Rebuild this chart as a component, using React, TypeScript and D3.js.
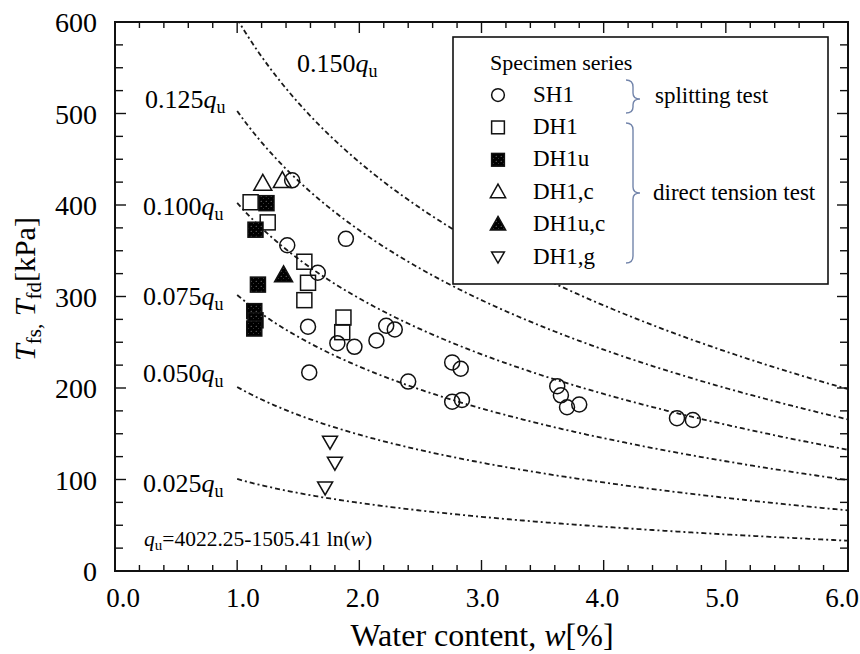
import React from "react";
import * as d3 from "d3";

// ---- data ----
const sh1W = [1.45, 1.41, 1.66, 1.89, 1.58, 1.59, 1.82, 1.96, 2.14, 2.22, 2.29, 2.40, 2.76, 2.83, 2.76, 2.84, 3.62, 3.65, 3.70, 3.80, 4.60, 4.73];
const sh1T = [427, 356, 326, 363, 267, 217, 249, 245, 252, 268, 264, 207, 228, 221, 185, 187, 202, 192, 179, 182, 167, 165];
const dh1W = [1.11, 1.25, 1.55, 1.58, 1.55, 1.87, 1.86];
const dh1T = [403, 381, 338, 315, 296, 277, 261];
const dh1uW = [1.24, 1.15, 1.17, 1.14, 1.15, 1.14];
const dh1uT = [402, 373, 313, 284, 274, 265];
const dh1cW = [1.21, 1.37];
const dh1cT = [423, 426];
const dh1ucW = [1.38];
const dh1ucT = [323];
const dh1gW = [1.76, 1.80, 1.72];
const dh1gT = [141, 118, 91];

// reference curves T = ratio * qu, qu = A - B ln(w) (from the chart annotation)
const qA = 4022.25;
const qB = 1505.41;
const ratios = [0.15, 0.125, 0.1, 0.075, 0.05, 0.025];
const ratioLabels = ["0.150", "0.125", "0.100", "0.075", "0.050", "0.025"];
const curveW = d3.range(1.0, 6.0001, 0.02);

const xTicks = [0, 1, 2, 3, 4, 5, 6];
const yTicks = [0, 100, 200, 300, 400, 500, 600];

const legendNames = ["SH1", "DH1", "DH1u", "DH1,c", "DH1u,c", "DH1,g"];

// ---- layout ----
const W = 860, H = 654;
const L = 115, R = 848, T = 22, B = 571;
const x = d3.scaleLinear().domain([0, 6]).range([L, R]);
const xLab = d3.scaleLinear().domain([0, 6]).range([123, 842]);
const y = d3.scaleLinear().domain([0, 600]).range([B, T]);
const labelPos = [
  [297, 72], [145, 108], [143, 215], [143, 305], [143, 382], [143, 492],
];
const serif = "'Liberation Serif', 'Times New Roman', serif";
const ink = "#000";

function Marker({ kind, cx, cy, s = 1 }: { kind: string; cx: number; cy: number; s?: number }) {
  const st = { stroke: "#111", strokeWidth: 1.5 };
  if (kind === "SH1") return <circle cx={cx} cy={cy} r={7.5 * s} fill="none" {...st} />;
  if (kind === "DH1") {
    const a = 7.5 * s;
    return <rect x={cx - a} y={cy - a} width={2 * a} height={2 * a} fill="none" {...st} />;
  }
  if (kind === "DH1u") {
    const a = 7.5 * s;
    return <rect x={cx - a} y={cy - a} width={2 * a} height={2 * a} fill="url(#speck)" {...st} />;
  }
  if (kind === "DH1,c" || kind === "DH1u,c") {
    const w = 9 * s, h = 16 * s;
    const p = `M${cx},${cy - h * 0.6} L${cx + w},${cy + h * 0.4} L${cx - w},${cy + h * 0.4} Z`;
    return <path d={p} fill={kind === "DH1u,c" ? "url(#speck)" : "none"} {...st} />;
  }
  const w = 7.5 * s, h = 13 * s;
  const p = `M${cx - w},${cy - h * 0.45} L${cx + w},${cy - h * 0.45} L${cx},${cy + h * 0.55} Z`;
  return <path d={p} fill="none" {...st} />;
}

export default function App() {
  const series: [string, number[], number[]][] = [
    ["SH1", sh1W, sh1T],
    ["DH1", dh1W, dh1T],
    ["DH1u", dh1uW, dh1uT],
    ["DH1,c", dh1cW, dh1cT],
    ["DH1u,c", dh1ucW, dh1ucT],
    ["DH1,g", dh1gW, dh1gT],
  ];
  const curves = ratios.map((r) =>
    d3.line<number>().x((w) => x(w)).y((w) => y(r * (qA - qB * Math.log(w))))(curveW) as string
  );

  const xMinor = d3.range(0, 6.0001, 0.2);
  const yMinor = d3.range(0, 600.001, 25);

  const lx = 453, ly = 37, lw = 375, lh = 247;
  const rowY = (i: number) => 95 + i * 32.4;

  return (
    <svg width={W} height={H} style={{ position: "absolute", left: 0, top: 0, background: "#fff" }} fontFamily={serif}>
      <defs>
        <clipPath id="plot">
          <rect x={L} y={T} width={R - L} height={B - T} />
        </clipPath>
        <pattern id="speck" width="5" height="5" patternUnits="userSpaceOnUse">
          <rect width="5" height="5" fill="#000" />
          <circle cx="1.2" cy="1.2" r="0.5" fill="#aaa" />
          <circle cx="3.6" cy="3.4" r="0.4" fill="#888" />
        </pattern>
      </defs>
      <rect width={W} height={H} fill="#fff" />

      {/* reference curves */}
      <g clipPath="url(#plot)">
        {curves.map((d, i) => (
          <path key={i} d={d} fill="none" stroke="#1a1a1a" strokeWidth={1.8} strokeDasharray="5 3 2 3" />
        ))}
      </g>

      {/* curve labels */}
      {ratioLabels.map((t, i) => (
        <text key={t} x={labelPos[i][0]} y={labelPos[i][1]} fontSize={26} fill={ink}>
          {t}
          <tspan fontStyle="italic">q</tspan>
          <tspan fontSize={18} dy={5}>u</tspan>
        </text>
      ))}
      <text x={144} y={546} fontSize={21.5} fill={ink}>
        <tspan fontStyle="italic">q</tspan>
        <tspan fontSize={15} dy={4}>u</tspan>
        <tspan dy={-4}>=4022.25-1505.41 ln(</tspan>
        <tspan fontStyle="italic">w</tspan>
        <tspan>)</tspan>
      </text>

      {/* data */}
      <g clipPath="url(#plot)">
        {series.map(([k, ws, ts]) =>
          ws.map((w, i) => <Marker key={k + i} kind={k} cx={x(w)} cy={y(ts[i])} />)
        )}
      </g>

      {/* legend */}
      <rect x={lx} y={ly} width={lw} height={lh} fill="#fff" stroke="#111" strokeWidth={1.6} />
      <text x={490} y={70} fontSize={22} fill={ink}>Specimen series</text>
      {legendNames.map((n, i) => (
        <g key={n}>
          <Marker kind={n} cx={498} cy={rowY(i)} s={0.85} />
          <text x={533} y={rowY(i) + 6.5} fontSize={23} fill={ink}>{n}</text>
        </g>
      ))}
      <path d="M626,80 Q633,80 633,87 L633,93 Q633,99 640,99 Q633,99 633,105 L633,107 Q633,113 626,113" fill="none" stroke="#7385ab" strokeWidth={1.4} />
      <text x={655} y={103} fontSize={23} fill={ink}>splitting test</text>
      <path d="M626,123 Q633,123 633,130 L633,187 Q633,193 640,193 Q633,193 633,199 L633,256 Q633,263 626,263" fill="none" stroke="#7385ab" strokeWidth={1.4} />
      <text x={653} y={200} fontSize={23} fill={ink}>direct tension test</text>

      {/* ticks */}
      <g stroke="#111" strokeWidth={1.4}>
        {xMinor.map((v, i) => {
          const major = Math.abs(v - Math.round(v)) < 1e-6;
          const len = major ? 11 : 6;
          return (
            <g key={"xt" + i}>
              <line x1={x(v)} x2={x(v)} y1={B} y2={B - len} />
              <line x1={x(v)} x2={x(v)} y1={T} y2={T + len} />
            </g>
          );
        })}
        {yMinor.map((v, i) => {
          const major = v % 100 === 0;
          const len = major ? 11 : 8;
          return (
            <g key={"yt" + i}>
              <line x1={L} x2={L + len} y1={y(v)} y2={y(v)} />
              <line x1={R} x2={R - len} y1={y(v)} y2={y(v)} />
            </g>
          );
        })}
      </g>

      {/* frame */}
      <rect x={L} y={T} width={R - L} height={B - T} fill="none" stroke="#111" strokeWidth={2} />

      {/* tick labels */}
      {xTicks.map((v) => (
        <text key={"xl" + v} x={xLab(v)} y={607} fontSize={27} textAnchor="middle" fill={ink}>
          {d3.format(".1f")(v)}
        </text>
      ))}
      {yTicks.map((v) => (
        <text key={"yl" + v} x={97} y={y(v) + 10} fontSize={28} textAnchor="end" fill={ink}>
          {v}
        </text>
      ))}

      {/* axis titles */}
      <text x={482} y={646} fontSize={32} textAnchor="middle" fill={ink}>
        Water content, <tspan fontStyle="italic">w</tspan>[%]
      </text>
      <text transform="translate(35,289) rotate(-90)" fontSize={30} textAnchor="middle" fill={ink}>
        <tspan fontStyle="italic">T</tspan>
        <tspan fontSize={21} dy={6}>fs,</tspan>
        <tspan dy={-6}> </tspan>
        <tspan fontStyle="italic">T</tspan>
        <tspan fontSize={21} dy={6}>fd</tspan>
        <tspan dy={-6}>[kPa]</tspan>
      </text>
    </svg>
  );
}
